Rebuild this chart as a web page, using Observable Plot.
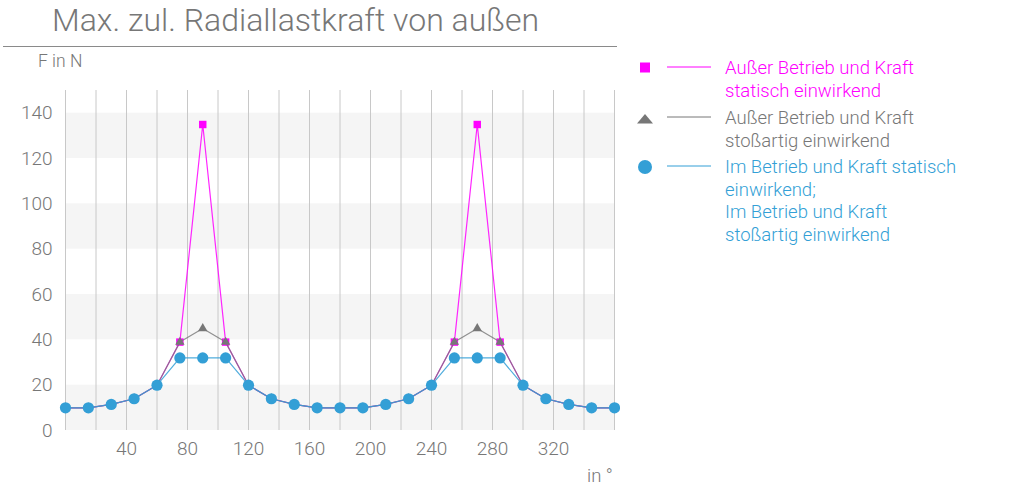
<!DOCTYPE html>
<html><head><meta charset="utf-8">
<script src="https://cdn.jsdelivr.net/npm/d3@7"></script>
<script src="https://cdn.jsdelivr.net/npm/@observablehq/plot@0.6"></script>
<style>
body{margin:0;font-family:Roboto,"Open Sans",sans-serif;color:#777;background:#fff}
#wrap{position:relative;width:1015px;height:500px;overflow:hidden}
#chart{position:absolute;left:0;top:0}
.abs{position:absolute;white-space:nowrap}
#title{left:52px;top:1px;font-size:32px;font-weight:300;color:#777}
#rule{left:3px;top:46px;width:614px;height:0;border-top:1px solid #8a8a8a}
#ylab{left:38px;top:51px;font-size:17.5px;font-weight:300}
#xlab{left:587px;top:465px;font-size:18.5px;font-weight:300}
.leg{position:absolute;left:636px;width:380px}
.leg svg{position:absolute;left:0;top:0}
.leg .txt{position:absolute;left:89px;top:-1px;font-size:18.5px;line-height:22.5px;font-weight:300;white-space:nowrap}
</style></head><body>
<div id="wrap">
  <div id="chart"></div>
  <div class="abs" id="title">Max. zul. Radiallastkraft von außen</div>
  <div class="abs" id="rule"></div>
  <div class="abs" id="ylab">F in N</div>
  <div class="abs" id="xlab">in °</div>
  <div id="legend"></div>
</div>
<script>
const angles = [0,15,30,45,60,75,90,105,120,135,150,165,180,195,210,225,240,255,270,285,300,315,330,345,360];
const magentaVals = [10,10,11.5,14,20,39,135,39,20,14,11.5,10,10,10,11.5,14,20,39,135,39,20,14,11.5,10,10];
const grayVals    = [10,10,11.5,14,20,39,45,39,20,14,11.5,10,10,10,11.5,14,20,39,45,39,20,14,11.5,10,10];
const blueVals    = [10,10,11.5,14,20,32,32,32,20,14,11.5,10,10,10,11.5,14,20,32,32,32,20,14,11.5,10,10];
const yTicks = [0,20,40,60,80,100,120,140];
const xTicks = [40,80,120,160,200,240,280,320];
const xGrid = [0,20,40,60,80,100,120,140,160,180,200,220,240,260,280,300,320,340,360];
const bandStarts = [0,40,80,120];
const bandSize = 20;

const seriesNames = [
  ["Außer Betrieb und Kraft", "statisch einwirkend"],
  ["Außer Betrieb und Kraft", "stoßartig einwirkend"],
  ["Im Betrieb und Kraft statisch", "einwirkend;", "Im Betrieb und Kraft", "stoßartig einwirkend"]
];
const colors = ["#ff00ff", "#777777", "#339fd6"];

const mk = vals => angles.map((a,i) => ({a, v: vals[i]}));
const mData = mk(magentaVals), gData = mk(grayVals), bData = mk(blueVals);
const bands = bandStarts.map(s => ({y1: s, y2: s + bandSize}));

const plot = Plot.plot({
  width: 620, height: 500,
  marginLeft: 65, marginRight: 6, marginTop: 90, marginBottom: 70,
  style: {fontFamily: "Roboto, sans-serif", fontSize: "19px", color: "#777", background: "transparent", fontWeight: 300},
  x: {domain: [0,360]},
  y: {domain: [0,150]},
  marks: [
    Plot.rect(bands, {x1: () => 0, x2: () => 360, y1: "y1", y2: "y2", fill: "#f5f5f5"}),
    Plot.ruleX(xGrid, {stroke: "#c8c8c8", strokeWidth: 1}),
    Plot.axisY(yTicks, {tickSize: 0, tickPadding: 13, label: null, fill: "#777"}),
    Plot.axisX(xTicks, {tickSize: 0, tickPadding: 11, label: null, fill: "#777"}),
    Plot.line(mData, {x: "a", y: "v", stroke: colors[0], strokeWidth: 1.2, strokeOpacity: 0.85}),
    Plot.dot(mData, {x: "a", y: "v", symbol: "square", r: 4.2, fill: colors[0]}),
    Plot.line(gData, {x: "a", y: "v", stroke: colors[1], strokeWidth: 1.2, strokeOpacity: 0.8}),
    Plot.dot(gData, {x: "a", y: "v", symbol: "triangle", r: 3.5, fill: colors[1]}),
    Plot.line(bData, {x: "a", y: "v", stroke: colors[2], strokeWidth: 1.2, strokeOpacity: 0.85}),
    Plot.dot(bData, {x: "a", y: "v", r: 5.6, fill: colors[2]})
  ]
});
document.getElementById("chart").appendChild(plot);

// legend
const legTops = [58, 108, 157];
const legend = document.getElementById("legend");
seriesNames.forEach((lines, i) => {
  const d = document.createElement("div");
  d.className = "leg";
  d.style.top = legTops[i] + "px";
  d.style.height = (lines.length * 22.5 + 4) + "px";
  const sym = i === 0 ? `<rect x="4" y="4.5" width="10" height="10" fill="${colors[0]}"/>`
            : i === 1 ? `<path d="M1,15.5 L9,6 L17,15.5 Z" fill="${colors[1]}"/>`
            : `<circle cx="9" cy="10" r="7" fill="${colors[2]}"/>`;
  d.innerHTML = `<svg width="80" height="20">${sym}<line x1="31" x2="75" y1="9" y2="9" stroke="${colors[i]}" stroke-width="1"/></svg>` +
    `<div class="txt" style="color:${colors[i]}">${lines.join("<br>")}</div>`;
  legend.appendChild(d);
});
</script>
</body></html>
